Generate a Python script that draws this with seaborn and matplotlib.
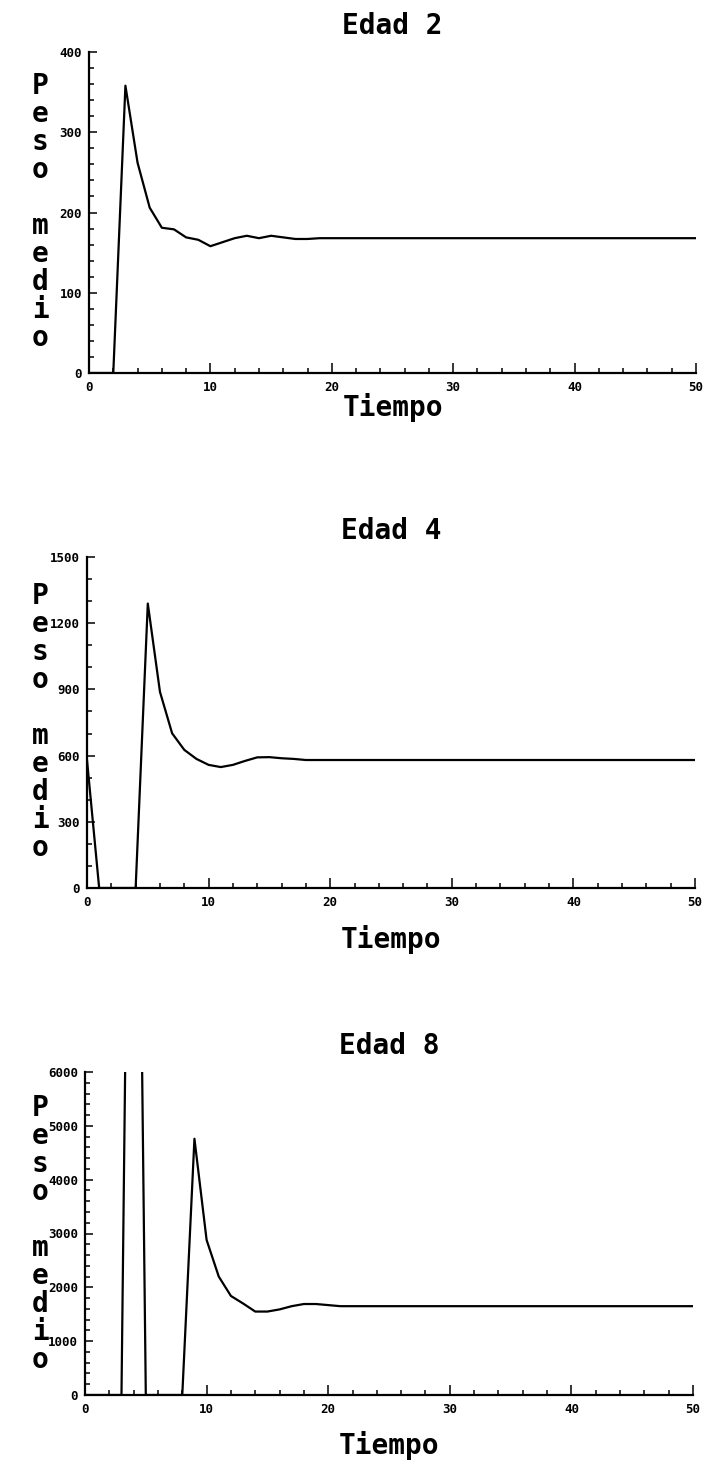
import numpy as np
import pandas as pd
import matplotlib
matplotlib.use("Agg")
import matplotlib.pyplot as plt
from matplotlib.ticker import MultipleLocator
import seaborn as sns

# Mean weight per age class over time (simulation output)
tiempo = list(range(0, 51))

peso_edad2 = [0, 0, 0, 358, 262, 206, 181, 179, 169, 166,
              158, 163, 168, 171, 168, 171, 169, 167, 167, 168] + [168] * 31

peso_edad4 = [580, 0, 0, 0, 0, 1289, 889, 701, 626, 585,
              558, 548, 558, 576, 592, 593, 588, 585, 580, 580] + [580] * 31

peso_edad8 = [0, 0, 0, 0, 20000, 0, 0, 0, 0, 4760,
              2880, 2200, 1840, 1700, 1550, 1550, 1590, 1650, 1690, 1690,
              1670] + [1650] * 30

titulos = ["Edad 2", "Edad 4", "Edad 8"]
series = [peso_edad2, peso_edad4, peso_edad8]
y_max = [400, 1500, 6000]
y_major = [100, 300, 1000]
y_minor = [20, 100, 200]

sns.set_theme(style="ticks")
plt.rcParams["font.family"] = ["DejaVu Sans Mono", "DejaVu Sans"]
plt.rcParams["font.weight"] = "bold"

W, H = 704, 1461
fig = plt.figure(figsize=(W / 100, H / 100), dpi=100)
fig.patch.set_facecolor("white")

# panel boxes in pixels: left, right, top, bottom
boxes = [(89, 696, 52, 373), (87, 695, 557, 888), (85, 693, 1072, 1395)]
xlabel_offset = [35, 52, 50]

for i, (tit, vals) in enumerate(zip(titulos, series)):
    l, r, t, b = boxes[i]
    ax = fig.add_axes([l / W, 1 - b / H, (r - l) / W, (b - t) / H])
    df = pd.DataFrame({"Tiempo": tiempo, "Peso": vals})
    sns.lineplot(data=df, x="Tiempo", y="Peso", ax=ax, color="black",
                 linewidth=1.6)
    ax.set_xlim(0, 50)
    ax.set_ylim(0, y_max[i])
    ax.set_facecolor("white")
    sns.despine(ax=ax)
    for sp in ("left", "bottom"):
        ax.spines[sp].set_linewidth(1.6)
        ax.spines[sp].set_color("black")

    ax.xaxis.set_major_locator(MultipleLocator(10))
    ax.xaxis.set_minor_locator(MultipleLocator(2))
    ax.yaxis.set_major_locator(MultipleLocator(y_major[i]))
    ax.yaxis.set_minor_locator(MultipleLocator(y_minor[i]))
    ax.tick_params(which="both", direction="in", color="black", width=1.1,
                   labelsize=9, labelcolor="black")
    ax.tick_params(axis="x", which="major", length=7, pad=6)
    ax.tick_params(axis="x", which="minor", length=3.5)
    ax.tick_params(axis="y", which="major", length=6, pad=5)
    ax.tick_params(axis="y", which="minor", length=3.5)
    for lab in ax.get_xticklabels() + ax.get_yticklabels():
        lab.set_fontweight("bold")

    ax.set_title(tit, fontsize=20, fontweight="bold", pad=13, color="black")

    h = b - t
    wdt = r - l
    ax.set_xlabel("Tiempo", fontsize=20, fontweight="bold", color="black")
    ax.xaxis.set_label_coords(0.5, -xlabel_offset[i] / h)
    ax.xaxis.label.set_va("center")

    ax.set_ylabel("\n".join("Peso medio"), rotation=0, fontsize=20,
                  fontweight="bold", color="black", linespacing=1.0,
                  ha="center", va="center")
    ax.yaxis.set_label_coords(-(l - 40) / wdt, 0.5)

fig.savefig("out.png", dpi=100, facecolor="white")
